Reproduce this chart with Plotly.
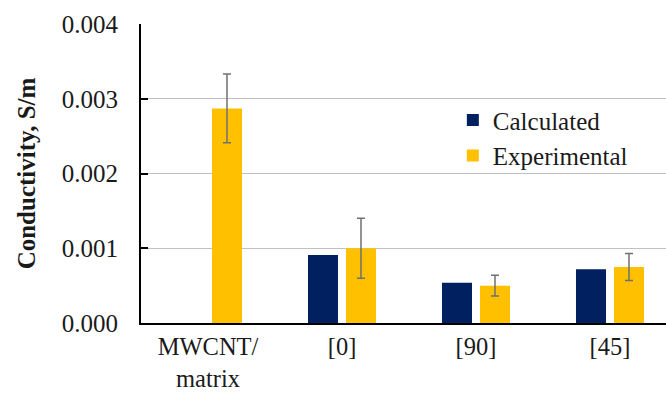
import plotly.graph_objects as go

categories = ["MWCNT/<br>matrix", "[0]", "[90]", "[45]"]
calculated = [None, 0.00091, 0.00054, 0.00072]
experimental = [0.00287, 0.00100, 0.00050, 0.00075]
experimental_err = [0.00046, 0.00040, 0.00014, 0.00018]
y_ticks = [0.000, 0.001, 0.002, 0.003, 0.004]
y_tick_text = ["0.000", "0.001", "0.002", "0.003", "0.004"]

FONT = "Liberation Serif"
INK = "#1a1a1a"

fig = go.Figure()
fig.add_trace(go.Bar(
    name="Calculated", x=categories, y=calculated,
    marker=dict(color="#002060", line=dict(width=0)),
))
fig.add_trace(go.Bar(
    name="Experimental", x=categories, y=experimental,
    marker=dict(color="#FFC000", line=dict(width=0)),
    error_y=dict(type="data", array=experimental_err, visible=True,
                 color="#707070", thickness=1.5, width=4),
))

fig.update_layout(
    width=666, height=394,
    margin=dict(l=141, r=0, t=24, b=71),
    paper_bgcolor="white", plot_bgcolor="white",
    barmode="group", bargap=0.433, bargroupgap=0.21,
    font=dict(family=FONT, size=25, color=INK),
    showlegend=True,
    legend=dict(x=0.594, y=0.755, xanchor="left", yanchor="top",
                font=dict(family=FONT, size=25, color=INK),
                bgcolor="rgba(0,0,0,0)", tracegroupgap=0,
                itemwidth=30),
)
fig.update_xaxes(
    range=[-0.5, 3.418], automargin=False,
    showline=True, linecolor="black", linewidth=2,
    ticks="", showgrid=False,
    ticklabelstandoff=1,
    tickfont=dict(family=FONT, size=24.5, color=INK),
)
fig.update_yaxes(
    range=[0, 0.004], automargin=False,
    tickvals=y_ticks, ticktext=y_tick_text,
    showline=True, linecolor="black", linewidth=2,
    ticks="inside", ticklen=7, tickcolor="black", tickwidth=2,
    showgrid=True, gridcolor="#c0c0c0", gridwidth=1,
    zeroline=False,
    ticklabelstandoff=16,
    tickfont=dict(family=FONT, size=25, color=INK),
    title=dict(text="<b>Conductivity, S/m</b>", standoff=19,
               font=dict(family=FONT, size=25, color=INK)),
)

fig.write_html("out.html")
